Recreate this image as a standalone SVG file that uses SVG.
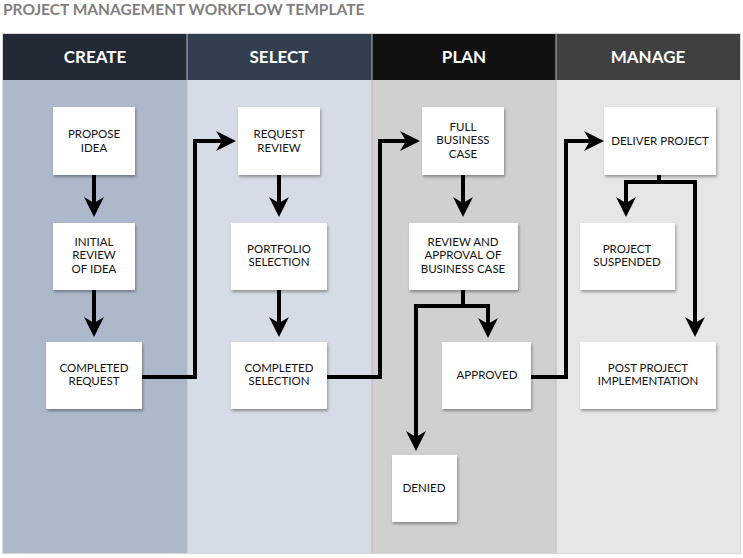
<svg xmlns="http://www.w3.org/2000/svg" width="743" height="558" viewBox="0 0 743 558">
<style>
text{font-family:Lato,"Liberation Sans",sans-serif}
.h{fill:#fff;font-size:17px;font-weight:bold;text-anchor:middle}
.n rect{fill:#fff;filter:url(#sh)}
.n text{font-size:11.5px;fill:#111;text-anchor:middle}
.c path{fill:none;stroke:#000;stroke-width:4;marker-end:url(#a)}
</style>
<defs>
<filter id="sh" x="-20%" y="-20%" width="140%" height="140%"><feDropShadow dx="1" dy="2" stdDeviation="1.5" flood-opacity="0.35"/></filter>
<marker id="a" viewBox="0 0 10 10" refX="7" refY="5" markerWidth="5" markerHeight="5" orient="auto" markerUnits="strokeWidth"><path d="M0,0 L10,5 L0,10 L3,5 z" fill="#000"/></marker>
</defs>
<rect width="743" height="558" fill="#fff"/>
<text x="3" y="15" font-size="15.5" font-weight="bold" fill="#7f7f7f">PROJECT MANAGEMENT WORKFLOW TEMPLATE</text>
<rect x="3" y="34" width="737" height="519" fill="none" stroke="#ccc" stroke-width="1.5"/>
<rect x="3" y="80" width="184" height="473" fill="#adb9ca"/>
<rect x="187" y="80" width="185" height="473" fill="#d6dce5"/>
<rect x="372" y="80" width="184" height="473" fill="#d0d0d0"/>
<rect x="556" y="80" width="184" height="473" fill="#e6e6e6"/>
<rect x="3" y="34" width="184" height="46" fill="#232a36"/>
<rect x="187" y="34" width="185" height="46" fill="#333f4f"/>
<rect x="372" y="34" width="184" height="46" fill="#111"/>
<rect x="556" y="34" width="184" height="46" fill="#404040"/>
<g stroke="#bbb" stroke-width="1"><line x1="187" y1="34" x2="187" y2="553"/><line x1="372" y1="34" x2="372" y2="553"/><line x1="556" y1="34" x2="556" y2="553"/></g>
<text class="h" x="95" y="63">CREATE</text>
<text class="h" x="279" y="63">SELECT</text>
<text class="h" x="464" y="63">PLAN</text>
<text class="h" x="648" y="63">MANAGE</text>
<g class="c">
<path d="M94,175 V211"/>
<path d="M94,290 V331"/>
<path d="M142,377 H195 V141 H230"/>
<path d="M279,175 V211"/>
<path d="M279,290 V331"/>
<path d="M327,377 H380 V141 H414"/>
<path d="M463,175 V211"/>
<path d="M463,290 V306 H488 V332"/>
<path d="M463,306 H416 V445"/>
<path d="M531,377 H566 V141 H598"/>
<path d="M659,175 V182 H626 V211"/>
<path d="M659,182 H695 V331"/>
</g>
<g id="propose" class="n"><rect x="53" y="107" width="82" height="68"/><text x="94" y="138">PROPOSE</text><text x="94" y="152">IDEA</text></g>
<g id="initial" class="n"><rect x="53" y="223" width="82" height="67"/><text x="94" y="246">INITIAL</text><text x="94" y="259">REVIEW</text><text x="94" y="273">OF IDEA</text></g>
<g id="creq" class="n"><rect x="46" y="342" width="96" height="67"/><text x="94" y="372">COMPLETED</text><text x="94" y="385">REQUEST</text></g>
<g id="rreview" class="n"><rect x="238" y="107" width="82" height="68"/><text x="279" y="138">REQUEST</text><text x="279" y="152">REVIEW</text></g>
<g id="portfolio" class="n"><rect x="231" y="223" width="96" height="67"/><text x="279" y="253">PORTFOLIO</text><text x="279" y="266">SELECTION</text></g>
<g id="csel" class="n"><rect x="231" y="342" width="96" height="67"/><text x="279" y="372">COMPLETED</text><text x="279" y="385">SELECTION</text></g>
<g id="full" class="n"><rect x="422" y="107" width="82" height="68"/><text x="463" y="131">FULL</text><text x="463" y="144">BUSINESS</text><text x="463" y="158">CASE</text></g>
<g id="review" class="n"><rect x="409" y="223" width="109" height="67"/><text x="463" y="246">REVIEW AND</text><text x="463" y="259">APPROVAL OF</text><text x="463" y="273">BUSINESS CASE</text></g>
<g id="approved" class="n"><rect x="442" y="342" width="89" height="67"/><text x="487" y="379">APPROVED</text></g>
<g id="denied" class="n"><rect x="392" y="455" width="65" height="67"/><text x="424" y="492">DENIED</text></g>
<g id="deliver" class="n"><rect x="604" y="107" width="112" height="68"/><text x="660" y="145">DELIVER PROJECT</text></g>
<g id="suspended" class="n"><rect x="580" y="223" width="95" height="67"/><text x="627" y="253">PROJECT</text><text x="627" y="266">SUSPENDED</text></g>
<g id="post" class="n"><rect x="580" y="342" width="136" height="67"/><text x="648" y="372">POST PROJECT</text><text x="648" y="385">IMPLEMENTATION</text></g>
</svg>
